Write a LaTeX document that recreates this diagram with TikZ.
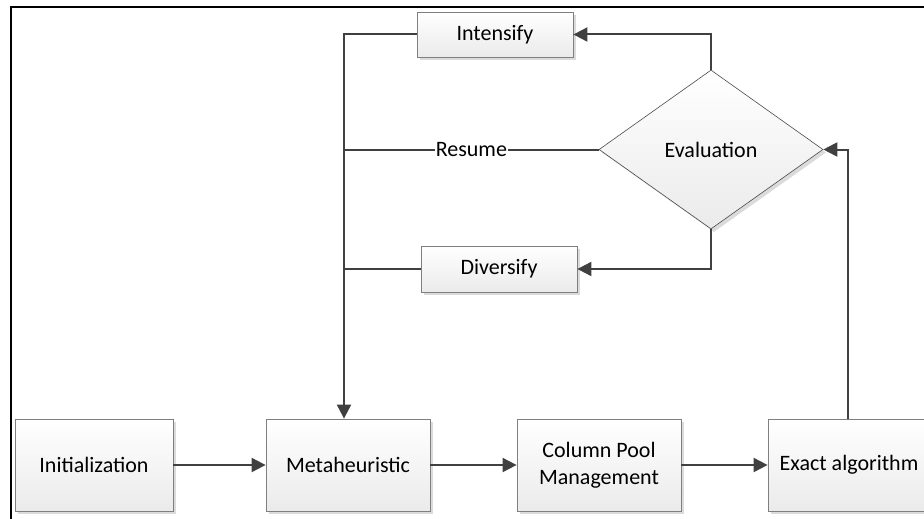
\documentclass[tikz,border=0pt]{standalone}
\usepackage{fontspec}
\setmainfont{Carlito}
\usetikzlibrary{shapes.geometric,arrows.meta,shadows}
\definecolor{linkgray}{HTML}{404040}
\definecolor{edgegray}{HTML}{7F7F7F}
\begin{document}
\begin{tikzpicture}[x = 1pt, y = -1pt,
   font = \fontsize{22}{27}\selectfont,
   block/.style = {draw = edgegray, line width = 0.8pt, top color = white, bottom color = black!8,
      drop shadow = {shadow xshift = 3pt, shadow yshift = -3pt, fill = black!14, opacity = 1},
      inner sep = 0pt, align = center},
   decision/.style = {diamond, draw = black!70, line width = 0.6pt, top color = white, bottom color = black!8,
      drop shadow = {shadow xshift = 3pt, shadow yshift = -3pt, fill = black!14, opacity = 1},
      inner sep = 0pt, aspect = 1.41, minimum width = 224pt, minimum height = 159pt},
   link/.style = {draw = linkgray, line width = 2pt, -{Triangle[length = 14pt, width = 14pt]}},
   plain/.style = {draw = linkgray, line width = 2pt}]
   \useasboundingbox (0,0) rectangle (924,519);
   % frame
   \draw[line width = 2pt] (11,519) -- (11,7) -- (924,7);
   % bottom row
   \node[block, minimum width = 158pt, minimum height = 92pt] (init) at (94,465) {Initialization};
   \node[block, minimum width = 164pt, minimum height = 92pt] (meta) at (348,465) {Metaheuristic};
   \node[block, minimum width = 164pt, minimum height = 92pt] (pool) at (599,465) {Column Pool\\Management};
   \node[block, minimum width = 162pt, minimum height = 92pt] (exact) at (849,465) {Exact algorithm};
   % loop
   \node[block, minimum width = 156pt, minimum height = 45pt] (intens) at (495,34.5) {Intensify};
   \node[block, minimum width = 156pt, minimum height = 46pt] (divers) at (499,269) {Diversify};
   \node[decision] (eval) at (711,149.5) {Evaluation};
   \coordinate (spine) at (344,34.5);
   \draw[link] (init) -- (meta);
   \draw[link] (meta) -- (pool);
   \draw[link] (pool) -- (exact);
   \draw[link] (exact.north -| 848,0) |- (eval.east);
   \draw[link] (eval.north) |- (intens.east);
   \draw[link] (eval.south) |- (divers.east);
   \draw[plain] (eval.west) -- (eval.west -| spine)
      node[midway, fill = white, inner sep = 1pt] (resume) {Resume};
   \draw[plain] (divers.west) -- (divers.west -| spine);
   \draw[link] (intens.west) -- (spine) -- (spine |- meta.north);
\end{tikzpicture}
\end{document}
